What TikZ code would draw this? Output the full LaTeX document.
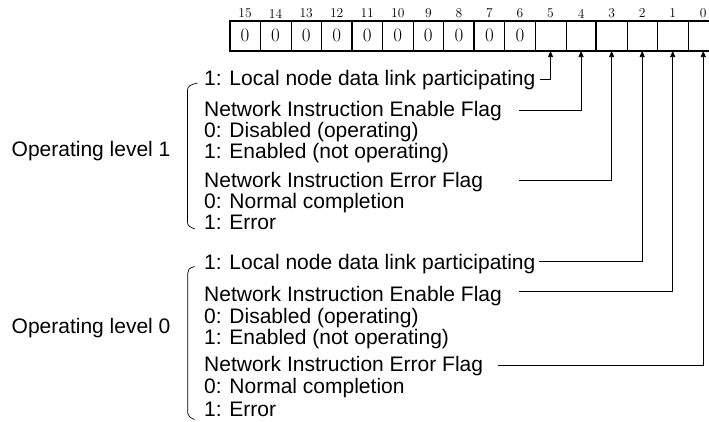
\documentclass[tikz,border=0pt]{standalone}
\usepackage{fontspec}
\newfontfamily\arialf{Liberation Sans}
\usetikzlibrary{arrows.meta}
\begin{document}
\begin{tikzpicture}[x=1pt,y=-1pt,
  txt/.style={anchor=base west, inner sep=0pt, font=\arialf\fontsize{21}{21}\selectfont},
  cell/.style={draw, line width=0.5pt, minimum width=30.55pt, minimum height=30pt, inner sep=0pt, anchor=north west, font=\fontsize{19}{19}\selectfont},
  bitnum/.style={inner sep=0pt, font=\fontsize{13.5}{13.5}\selectfont},
  leader/.style={line width=0.7pt, -{Triangle[length=6pt,width=5pt]}},
  brace/.style={line width=0.7pt}]
\useasboundingbox (0,0) rectangle (709,421);
% register
\foreach \i in {0,...,15} {
  \pgfmathsetmacro\xx{229.5+(15-\i)*30.55}
  \node[cell] (b\i) at (\xx,20.5) {\ifnum\i>5 0\fi};
  \node[bitnum] (n\i) at ([yshift=7pt]b\i.north) {\i};
}
\draw[line width=1.3pt] (b15.north west) rectangle (b0.south east);
\draw[line width=1.3pt] (b11.north west) -- (b11.south west);
\draw[line width=1.3pt] (b7.north west) -- (b7.south west);
\draw[line width=1.3pt] (b3.north west) -- (b3.south west);
% level 1 texts
\node[txt] (lvA) at (11.5,156.7) {Operating level 1};
\node[txt] (a1) at (204,85) {1: Local node data link participating};
\node[txt] (a2) at (204,116) {Network Instruction Enable Flag};
\node[txt] (a3) at (204,137) {0: Disabled (operating)};
\node[txt] (a4) at (204,158.5) {1: Enabled (not operating)};
\node[txt] (a5) at (204,187) {Network Instruction Error Flag};
\node[txt] (a6) at (204,208.5) {0: Normal completion};
\node[txt] (a7) at (204,229.5) {1: Error};
% level 0 texts
\node[txt] (lvB) at (11.5,333.3) {Operating level 0};
\node[txt] (c1t) at (204,269.5) {1: Local node data link participating};
\node[txt] (c2t) at (204,301.5) {Network Instruction Enable Flag};
\node[txt] (c3t) at (204,323) {0: Disabled (operating)};
\node[txt] (c4t) at (204,344) {1: Enabled (not operating)};
\node[txt] (c5t) at (204,371.5) {Network Instruction Error Flag};
\node[txt] (c6t) at (204,393.3) {0: Normal completion};
\node[txt] (c7t) at (204,416) {1: Error};
% brackets
\draw[brace] (197.5,83) .. controls (191,84.5) and (187.5,86) .. (187.5,90) -- (187.5,222) .. controls (187.5,226) and (190,227) .. (195,229);
\draw[brace] (194.5,266.5) .. controls (189,268) and (187.7,270) .. (187.7,273) -- (187.7,413) .. controls (187.7,416) and (190,417.5) .. (194.5,419.5);
% leader starts
\coordinate (s5) at (540,79.3);
\coordinate (s4) at (519,110);
\coordinate (s3) at (519,180);
\coordinate (s2) at (539,261.7);
\coordinate (s1) at (519,291);
\coordinate (s0) at (498,365);
\foreach \k in {0,...,5} {
  \draw[leader] (s\k) -| (b\k.south);
}
\end{tikzpicture}
\end{document}
